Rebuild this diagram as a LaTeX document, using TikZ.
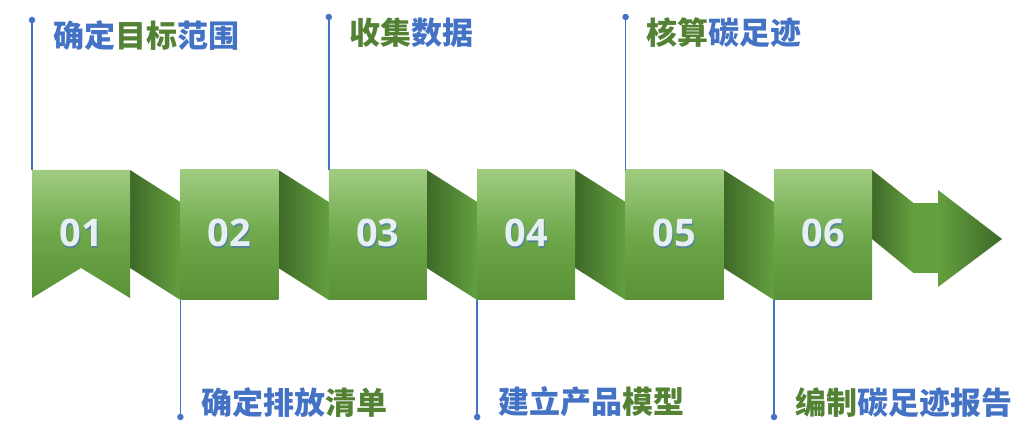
\documentclass[tikz,border=0pt]{standalone}
\usepackage{fontspec}
\newfontfamily\cjk{Noto Sans CJK SC}
\newfontfamily\numf{Open Sans}
\definecolor{tblue}{HTML}{4472C4}
\definecolor{tgreen}{HTML}{548235}
\definecolor{gtop}{HTML}{A0CC82}
\definecolor{gmid}{HTML}{6EA84A}
\definecolor{gbot}{HTML}{5A9136}
\definecolor{fdark}{HTML}{3E6928}
\definecolor{fmid}{HTML}{63A03F}
\definecolor{numc}{HTML}{E6EFF4}
\definecolor{shc}{HTML}{4E7FA6}
\begin{document}
\begin{tikzpicture}[x=1pt,y=-1pt,
  lbl/.style={font=\cjk\bfseries\fontsize{31}{31}\selectfont, inner sep=0pt, anchor=west, text=tblue},
  num/.style={font=\numf\bfseries\fontsize{38}{38}\selectfont, inner sep=0pt, text=numc},
  numsh/.style={font=\numf\bfseries\fontsize{38}{38}\selectfont, inner sep=0pt, text=shc, opacity=0.8},
  lead/.style={draw=tblue, line width=1.6pt},
  dot/.style={circle, fill=tblue, inner sep=0pt, minimum size=6.5pt},
  boxshade/.style={top color=gtop, bottom color=gbot, middle color=gmid},
  foldshade/.style={left color=fdark, right color=fmid},
  headshade/.style={left color=fmid, right color=fdark}]
\useasboundingbox (0,0) rectangle (1033,435);

% folds between boxes
\foreach \i in {0,...,4}{
  \pgfmathsetmacro{\xa}{32+148.4*\i+98}
  \pgfmathsetmacro{\xb}{32+148.4*(\i+1)}
  \shade[foldshade] (\xa,170) -- (\xb,202) -- (\xb,300) -- (\xa,268) -- cycle;
}
% final arrow
\shade[foldshade] (872,170) -- (913.5,203) -- (913.5,273) -- (872,239) -- cycle;
\fill[fmid] (913,203) rectangle (939,273);
\shade[headshade] (938,190) -- (1002,239) -- (938,287) -- cycle;

% boxes
\shade[boxshade] (32,170) -- (130,170) -- (130,298) -- (81,268) -- (32,298) -- cycle;
\foreach \i in {1,...,5}{
  \pgfmathsetmacro{\xa}{32+148.4*\i}
  \shade[boxshade] (\xa,170) rectangle ++(98,130);
}

% numbers
\foreach \i/\t in {0/01,1/02,2/03,3/04,4/05,5/06}{
  \pgfmathsetmacro{\xc}{32+148.4*\i+49}
  \node[numsh] at (\xc+1,234.5) {\t};
  \node[num] (n\i) at (\xc,233) {\t};
}

% leader lines
\coordinate (t1) at (32,170);
\coordinate (t3) at (328.8,170);
\coordinate (t5) at (625.6,170);
\coordinate (b2) at (180.4,300);
\coordinate (b4) at (477.2,300);
\coordinate (b6) at (774,300);
\node[dot] (d1) at (32,20) {};
\node[dot] (d3) at (328.8,17) {};
\node[dot] (d5) at (625.6,17) {};
\node[dot] (d2) at (180.4,417) {};
\node[dot] (d4) at (477.2,417) {};
\node[dot] (d6) at (774,417) {};
\foreach \k in {1,...,6}{ \draw[lead] (d\k.center) -- (\ifodd\k t\else b\fi\k); }

% labels
\node[lbl] (l1) at (53,36) {确定\textcolor{tgreen}{目标}范围};
\node[lbl] (l3) at (349,33) {\textcolor{tgreen}{收集}数据};
\node[lbl] (l5) at (646,33) {\textcolor{tgreen}{核算}碳足迹};
\node[lbl] (l2) at (201,403) {确定排放\textcolor{tgreen}{清单}};
\node[lbl] (l4) at (498,402) {建立产品\textcolor{tgreen}{模型}};
\node[lbl] (l6) at (795,403) {\textcolor{tgreen}{编制}碳足迹报告};
\end{tikzpicture}
\end{document}
